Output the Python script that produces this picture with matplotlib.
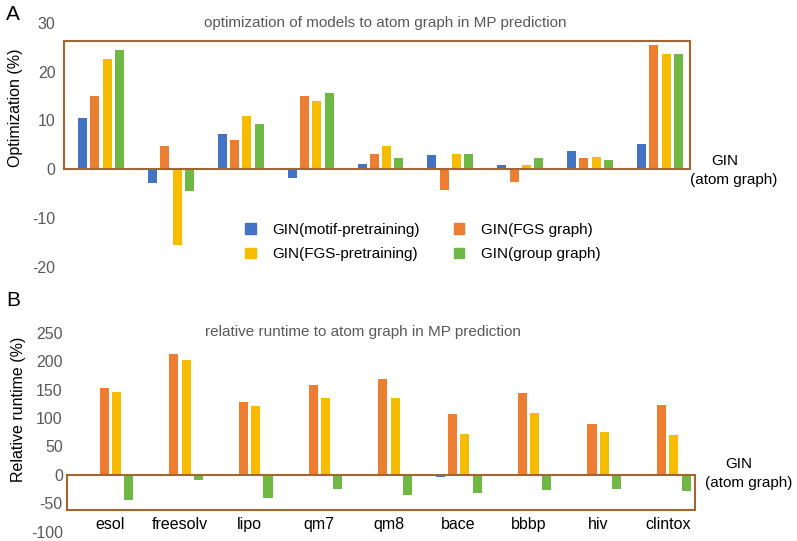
import numpy as np
import matplotlib
matplotlib.use("Agg")
import matplotlib.pyplot as plt
from matplotlib.patches import Rectangle, Patch

plt.rcParams['font.family'] = ['Liberation Sans', 'DejaVu Sans']
plt.rcParams['axes.unicode_minus'] = False

datasets = ["esol", "freesolv", "lipo", "qm7", "qm8", "bace", "bbbp", "hiv", "clintox"]
series = ["GIN(motif-pretraining)", "GIN(FGS graph)", "GIN(FGS-pretraining)", "GIN(group graph)"]
colors = ["#4472C4", "#ED7D31", "#F7BC00", "#70B844"]

# optimization (%) relative to atom graph
opt_motif = [10.4, -2.9, 7.2, -1.8, 1.1, 2.9, 0.8, 3.7, 5.2]
opt_fgs_graph = [15.0, 4.8, 5.9, 14.9, 3.0, -4.2, -2.7, 2.3, 25.5]
opt_fgs_pre = [22.5, -15.5, 10.9, 14.0, 4.8, 3.1, 0.75, 2.5, 23.5]
opt_group = [24.5, -4.4, 9.2, 15.6, 2.3, 3.1, 2.3, 1.8, 23.6]

# relative runtime (%)
rt_motif = [0, 0, 0, 0, 0, -3, 1, 0, 0]
rt_fgs_graph = [152, 212, 128, 158, 169, 107, 144, 89, 122]
rt_fgs_pre = [146, 202, 121, 135, 136, 72, 108, 76, 70]
rt_group = [-45, -9, -41, -25, -35, -32, -27, -25, -28]

box_color = "#A5652F"
grey = "#595959"
W, H = 797, 541

fig = plt.figure(figsize=(W / 100, H / 100), dpi=100)


def add_ax(x0, x1, ytop, ybot):
    return fig.add_axes([x0 / W, 1 - ybot / H, (x1 - x0) / W, (ybot - ytop) / H])


x = np.arange(len(datasets))
width = 0.13
step = 0.176
offsets = (np.arange(4) - 1.5) * step

# ---- panel A ----
ax1 = add_ax(64, 690, 22.7, 266.7)
ax1.set_xlim(-0.53, 8.43)
ax1.set_ylim(-20, 30)
for vals, off, c in zip([opt_motif, opt_fgs_graph, opt_fgs_pre, opt_group], offsets, colors):
    ax1.bar(x + off, vals, width, color=c, zorder=2)
ax1.add_patch(Rectangle((-0.53, 0), 8.96, 26.3, fill=False, edgecolor=box_color,
                        linewidth=1.5, zorder=3, clip_on=False))
for s in ax1.spines.values():
    s.set_visible(False)
ax1.set_xticks([])
ax1.set_yticks([-20, -10, 0, 10, 20, 30])
ax1.tick_params(axis='y', length=0, labelsize=11.5, labelcolor=grey, pad=6)
fig.text(16 / W, 1 - 108 / H, "Optimization (%)", rotation=90,
         ha='center', va='center', fontsize=11.5)
fig.text(385 / W, 1 - 23 / H, "optimization of models to atom graph in MP prediction",
         ha='center', va='center', fontsize=11, color=grey)

handles = [Patch(color=colors[i]) for i in [0, 2, 1, 3]]
labels = [series[i] for i in [0, 2, 1, 3]]
ax1.legend(handles, labels, ncol=2, frameon=False, fontsize=11,
           handlelength=0.7, handleheight=0.7, handletextpad=1.1,
           columnspacing=2.2, labelspacing=0.7,
           loc='center', bbox_to_anchor=((423 - 64) / 626, (266.7 - 242) / 244))

fig.text(725 / W, 1 - 161 / H, "GIN", ha='center', va='center', fontsize=11)
fig.text(734 / W, 1 - 180 / H, "(atom graph)", ha='center', va='center', fontsize=11)
fig.text(6 / W, 1 - 14 / H, "A", ha='left', va='center', fontsize=15)

# ---- panel B ----
ax2 = add_ax(67, 695, 332.7, 531.7)
ax2.set_xlim(-0.62, 8.39)
ax2.set_ylim(-100, 250)
for vals, off, c in zip([rt_motif, rt_fgs_graph, rt_fgs_pre, rt_group], offsets, colors):
    ax2.bar(x + off, vals, width, color=c, zorder=2)
ax2.add_patch(Rectangle((-0.62, -61.9), 9.01, 61.9, fill=False, edgecolor=box_color,
                        linewidth=1.5, zorder=3, clip_on=False))
for s in ax2.spines.values():
    s.set_visible(False)
ax2.set_xticks([])
ax2.set_yticks([-100, -50, 0, 50, 100, 150, 200, 250])
ax2.tick_params(axis='y', length=0, labelsize=11.5, labelcolor=grey, pad=3)
fig.text(19 / W, 1 - 409 / H, "Relative runtime (%)", rotation=90,
         ha='center', va='center', fontsize=11.5)
for xi, name in zip(x, datasets):
    ax2.text(xi, -88, name, ha='center', va='center', fontsize=11.5)
fig.text(363 / W, 1 - 332 / H, "relative runtime to atom graph in MP prediction",
         ha='center', va='center', fontsize=11, color=grey)

fig.text(739 / W, 1 - 464 / H, "GIN", ha='center', va='center', fontsize=11)
fig.text(749 / W, 1 - 483 / H, "(atom graph)", ha='center', va='center', fontsize=11)
fig.text(6 / W, 1 - 300 / H, "B", ha='left', va='center', fontsize=15)

fig.savefig("out.png", dpi=100)
